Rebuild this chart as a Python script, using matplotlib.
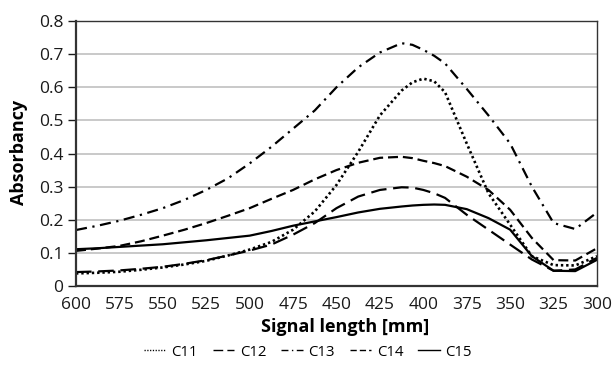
import matplotlib
matplotlib.use("Agg")
import matplotlib.pyplot as plt

wavelength = [600, 587.5, 575, 562.5, 550, 537.5, 525, 512.5, 500, 487.5, 475, 462.5,
              450, 437.5, 425, 412.5, 406.25, 400, 393.75, 387.5, 375, 362.5, 350, 337.5, 325, 312.5, 300]

c11 = [0.038, 0.040, 0.043, 0.049, 0.056, 0.065, 0.076, 0.092, 0.110, 0.133, 0.170, 0.225,
       0.305, 0.405, 0.515, 0.590, 0.615, 0.626, 0.618, 0.585, 0.430, 0.280, 0.185, 0.090, 0.063, 0.062, 0.090]
c12 = [0.042, 0.044, 0.047, 0.052, 0.058, 0.067, 0.078, 0.092, 0.107, 0.125, 0.155, 0.190,
       0.235, 0.270, 0.290, 0.298, 0.297, 0.290, 0.280, 0.266, 0.215, 0.170, 0.125, 0.080, 0.046, 0.050, 0.085]
c13 = [0.169, 0.182, 0.197, 0.215, 0.235, 0.260, 0.290, 0.325, 0.370, 0.420, 0.475, 0.530,
       0.600, 0.660, 0.705, 0.733, 0.728, 0.713, 0.695, 0.672, 0.595, 0.515, 0.430, 0.300, 0.190, 0.172, 0.222]
c14 = [0.106, 0.113, 0.121, 0.135, 0.152, 0.170, 0.190, 0.212, 0.235, 0.263, 0.290, 0.322,
       0.350, 0.372, 0.387, 0.390, 0.386, 0.378, 0.371, 0.362, 0.330, 0.290, 0.230, 0.145, 0.078, 0.077, 0.114]
c15 = [0.111, 0.114, 0.118, 0.122, 0.126, 0.132, 0.138, 0.145, 0.152, 0.166, 0.182, 0.195,
       0.208, 0.222, 0.233, 0.240, 0.243, 0.245, 0.246, 0.245, 0.232, 0.205, 0.170, 0.090, 0.046, 0.045, 0.079]

series_names = ["C11", "C12", "C13", "C14", "C15"]
x_ticks = [600, 575, 550, 525, 500, 475, 450, 425, 400, 375, 350, 325, 300]
y_ticks = [0, 0.1, 0.2, 0.3, 0.4, 0.5, 0.6, 0.7, 0.8]

plt.rcParams['font.family'] = ['Open Sans', 'DejaVu Sans']

fig = plt.figure(figsize=(6.16, 3.68), dpi=100)
ax = fig.add_axes([76/616, 1-286/368, (597-76)/616, (286-21)/368])

styles = [
    dict(linestyle=(0, (0.9, 1.1)), linewidth=1.9),
    dict(linestyle=(0, (7, 3)), linewidth=1.6),
    dict(linestyle=(0, (5, 2.5, 1, 2.5)), linewidth=1.6),
    dict(linestyle=(0, (4.5, 2.2)), linewidth=1.6),
    dict(linestyle='-', linewidth=1.6),
]
for ys, name, st in zip([c11, c12, c13, c14, c15], series_names, styles):
    ax.plot(wavelength, ys, color='black', label=name, **st)

ax.set_xlim(600, 300)
ax.set_ylim(0, 0.8)
ax.set_xticks(x_ticks)
ax.set_xticklabels([str(v) for v in x_ticks])
ax.set_yticks(y_ticks)
ax.set_yticklabels(["0" if v == 0 else f"{v:.1f}" for v in y_ticks])
ax.tick_params(axis='x', length=0, labelsize=12.5, pad=8, colors='#1a1a1a')
ax.tick_params(axis='y', length=6, width=1, labelsize=12.5, pad=3, colors='#1a1a1a')
ax.grid(axis='y', color='#c0c0c0', linewidth=1.2)
ax.set_axisbelow(True)
for s in ax.spines.values():
    s.set_color('#333333')
    s.set_linewidth(1.0)
ax.spines['left'].set_linewidth(1.6)
ax.spines['bottom'].set_linewidth(1.6)

ax.set_ylabel("Absorbancy", fontsize=13, fontweight='bold')
ax.yaxis.set_label_coords(-(76 - 19) / 521, (286 - 152) / 265)
ax.set_xlabel("Signal length [mm]", fontsize=13, fontweight='bold')
ax.xaxis.set_label_coords((345 - 76) / 521, -(327 - 286) / 265)
ax.xaxis.label.set_va('center')
ax.yaxis.label.set_va('center')

leg = fig.legend(loc='center', bbox_to_anchor=(308/616, 1-352/368), ncol=5, frameon=False,
                 fontsize=10.8, handlelength=1.45, handletextpad=0.35, columnspacing=1.0)
for line in leg.get_lines():
    line.set_linewidth(1.0)

fig.savefig("out.png", dpi=100)
